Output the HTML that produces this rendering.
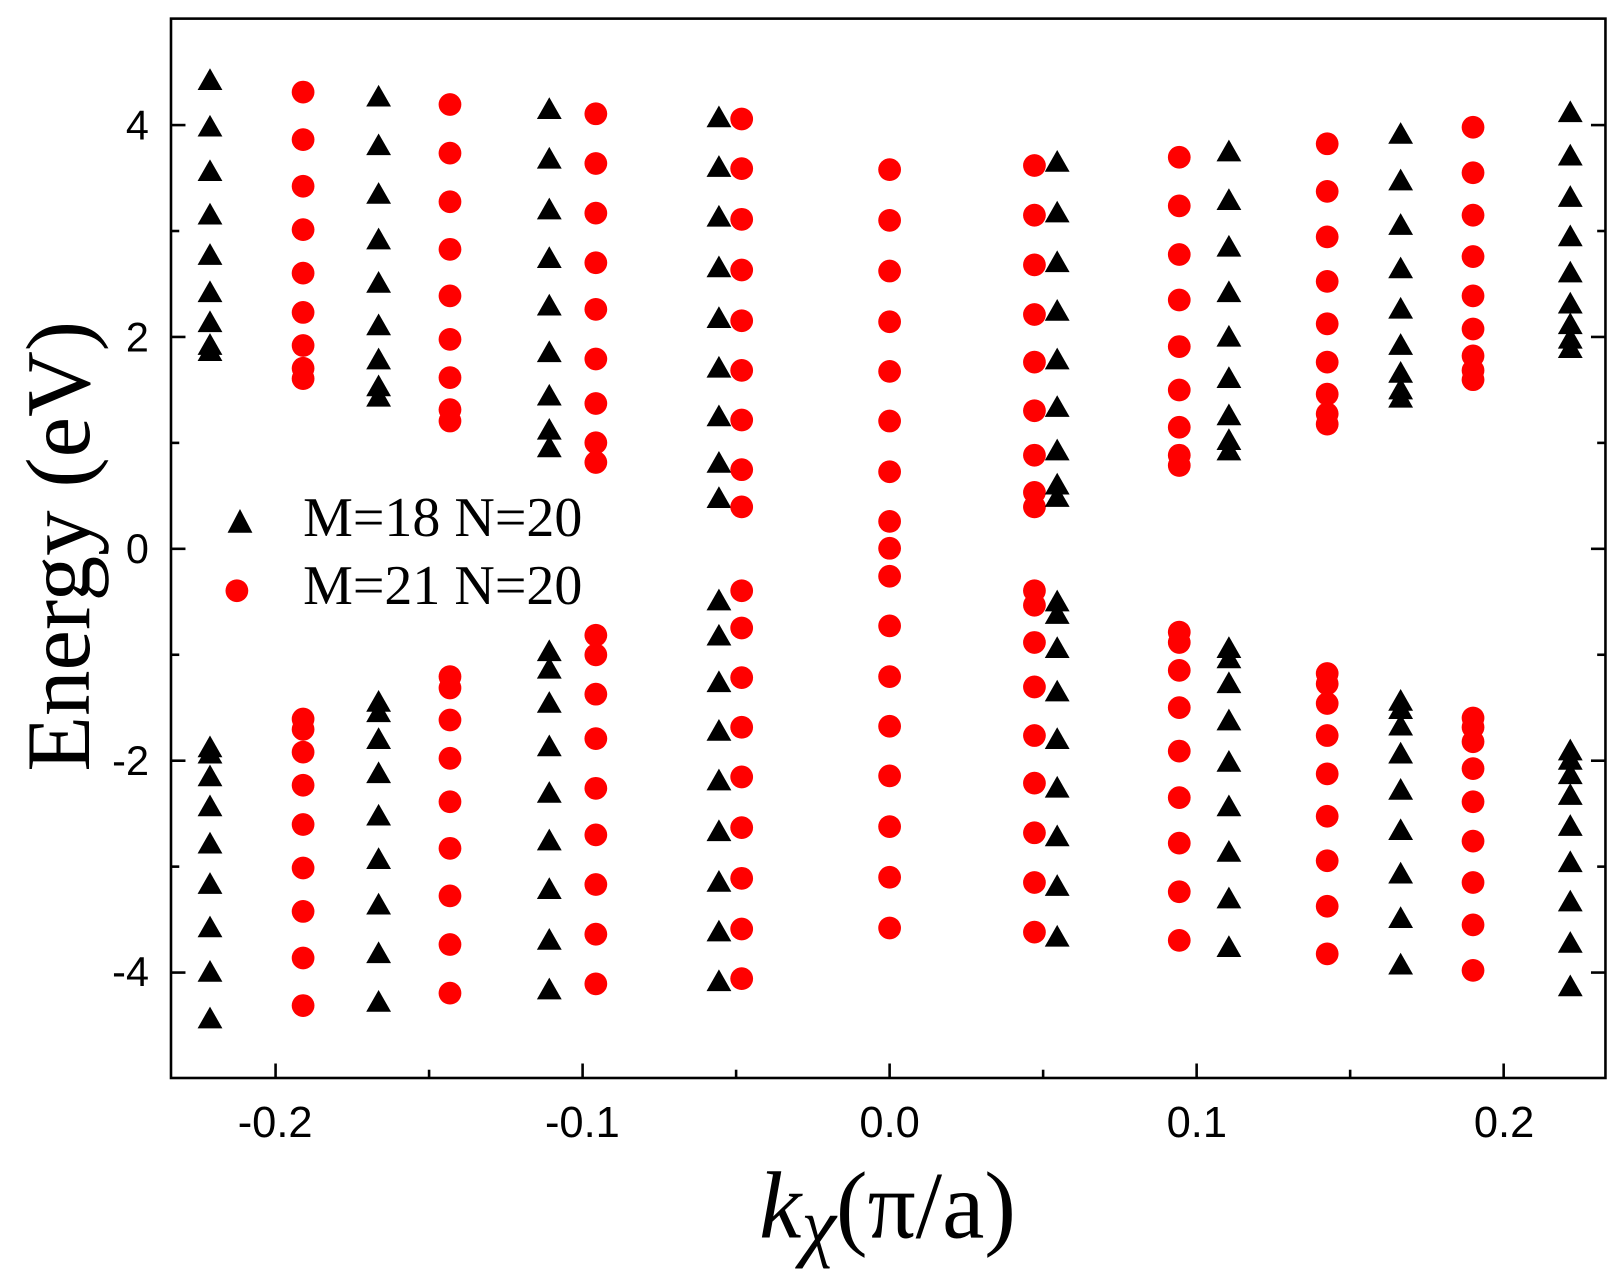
<!DOCTYPE html>
<html><head><meta charset="utf-8"><style>html,body{margin:0;padding:0;background:#fff}svg{display:block}</style></head>
<body>
<svg id="s" width="1622" height="1288" viewBox="0 0 1568 1245" preserveAspectRatio="none" xmlns="http://www.w3.org/2000/svg">
<rect x="0" y="0" width="1568" height="1245" fill="#fff"/>
<g id="ax" stroke="#000" stroke-width="2.5" fill="none">
<rect x="165.3" y="18" width="1386.7" height="1024"/>
</g>
<g id="marks"></g>
<g font-family="Liberation Sans, Arial, sans-serif" font-size="40" fill="#000" text-anchor="end">
<text x="144" y="135">4</text><text x="144" y="340">2</text><text x="144" y="544">0</text>
<text x="144" y="749">-2</text><text x="144" y="953">-4</text>
</g>
<g font-family="Liberation Sans, Arial, sans-serif" font-size="42" fill="#000" text-anchor="middle">
<text x="266" y="1099">-0.2</text><text x="563" y="1099">-0.1</text><text x="860" y="1099">0.0</text>
<text x="1157" y="1099">0.1</text><text x="1454" y="1099">0.2</text>
</g>
<text transform="translate(86,528) rotate(-90)" font-family="Liberation Serif, serif" font-size="88" text-anchor="middle">Energy (eV)</text>
<text x="858" y="1196" font-family="Liberation Serif, serif" font-size="92" text-anchor="middle"><tspan font-style="italic">k</tspan><tspan font-style="italic" font-size="76" dy="14">χ</tspan><tspan dy="-14">(π/a)</tspan></text>
<polygon points="232,492 220,515 244,515" fill="#000"/>
<circle cx="229" cy="571" r="11" fill="#f00"/>
<text x="293" y="518" font-family="Liberation Serif, serif" font-size="54" textLength="270" lengthAdjust="spacingAndGlyphs">M=18 N=20</text>
<text x="293" y="584" font-family="Liberation Serif, serif" font-size="54" textLength="270" lengthAdjust="spacingAndGlyphs">M=21 N=20</text>
</svg>
<script>
var NS="http://www.w3.org/2000/svg";
var ax=document.getElementById("ax"),mk=document.getElementById("marks");
function ln(x1,y1,x2,y2){var l=document.createElementNS(NS,"line");l.setAttribute("x1",x1);l.setAttribute("y1",y1);l.setAttribute("x2",x2);l.setAttribute("y2",y2);ax.appendChild(l);}
for(var e=-4;e<=4;e++){var y=530.5-e*102.4;var L=(e%2==0)?14:8;ln(165.3,y,165.3+L,y);ln(1552,y,1552-L,y);}
for(var i=-4;i<=4;i++){var x=860+i*148.4;var L=(i%2==0)?14:8;ln(x,1042,x,1042-L);}
var cols=[
["t",203,[77,122,165,207,246,282,311,333,339]],
["c",293,[89,135,180,222,264,302,334,356,366]],
["t",366,[93,140,187,231,273,314,347,373,383]],
["c",435,[101,148,195,241,286,328,365,396,407]],
["t",531,[105,153,202,249,295,340,382,415,432]],
["c",576,[110,158,206,254,299,347,390,428,447]],
["t",695,[113,161,209,258,307,355,402,447,481]],
["c",717,[115,163,212,261,310,358,406,454,490]],
["c",860,[164,213,262,311,359,407,456,504,530]],
["c",1000,[160,208,256,304,350,397,440,476,490]],
["t",1022,[156,205,253,300,347,393,435,468,480]],
["c",1140,[152,199,246,290,335,377,413,440,450]],
["t",1188,[146,193,238,282,325,365,401,425,435]],
["c",1283,[139,185,229,272,313,350,381,400,410]],
["t",1354,[129,174,217,259,298,333,360,376,384]],
["c",1424,[123,167,208,248,286,318,344,358,367]],
["t",1518,[108,150,190,228,263,293,313,327,336]]
];
function tri(x,y){var p=document.createElementNS(NS,"polygon");p.setAttribute("points",(x)+","+(y-11)+" "+(x-12)+","+(y+10)+" "+(x+12)+","+(y+10));p.setAttribute("fill","#000");mk.appendChild(p);}
function cir(x,y){var c=document.createElementNS(NS,"circle");c.setAttribute("cx",x);c.setAttribute("cy",y);c.setAttribute("r",11);c.setAttribute("fill","#f00");mk.appendChild(c);}
cols.forEach(function(c){c[2].forEach(function(y){var y2=1061-y;var f=c[0]=="t"?tri:cir;f(c[1],y);if(Math.abs(y2-y)>1)f(c[1],y2);});});
</script>
</body></html>
